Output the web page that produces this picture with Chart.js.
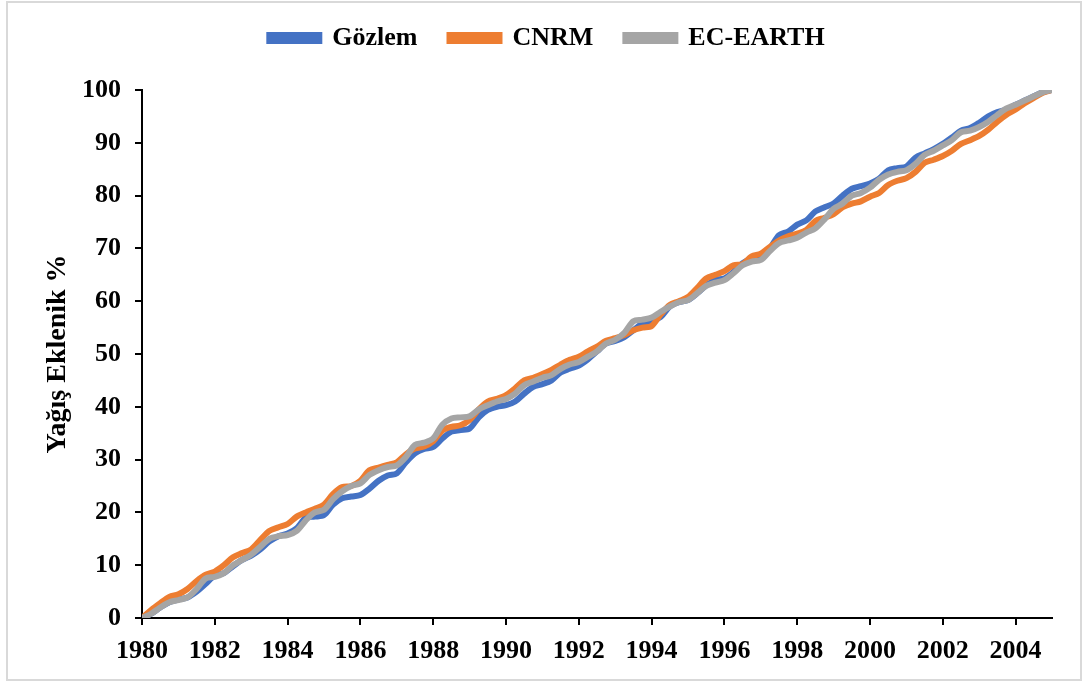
<!DOCTYPE html>
<html>
<head>
<meta charset="utf-8">
<script src="https://cdn.jsdelivr.net/npm/chart.js@4"></script>
<style>
  html, body { margin: 0; padding: 0; background: #fff; }
  #wrap { position: relative; width: 1084px; height: 684px; }
  #frame { position: absolute; left: 6px; top: 1px; width: 1072px; height: 676px; border: 2px solid #d9d9d9; pointer-events: none; }
</style>
</head>
<body>
<div id="wrap">
  <canvas id="chart" width="1084" height="684"></canvas>
  <div id="frame"></div>
</div>
<script>
// quarterly steps, 1980 -> 2005
const startYear = 1980;
const gozlem = [
  0, 0.8, 2.0, 3.0,
  3.5, 3.9, 5.0, 6.5,
  8.0, 8.5, 9.8, 11.0,
  11.8, 13.0, 14.5, 15.5,
  16.0, 17.0, 19.0, 19.2,
  19.5, 21.5, 22.7, 23.0,
  23.3, 24.5, 26.0, 27.0,
  27.4, 29.5, 31.2, 32.0,
  32.4, 34.0, 35.3, 35.6,
  35.9, 38.0, 39.4, 40.0,
  40.3, 41.0, 42.5, 43.8,
  44.3, 45.0, 46.5, 47.2,
  47.8, 49.0, 50.5, 52.0,
  52.5, 53.2, 54.5, 55.8,
  56.2, 57.0, 59.0, 59.8,
  60.2, 61.5, 63.0, 64.0,
  64.3, 65.5, 67.2, 68.0,
  68.2, 70.0, 72.5, 73.2,
  74.5, 75.3, 77.0, 77.8,
  78.5, 80.0, 81.3, 81.8,
  82.3, 83.2, 84.8, 85.2,
  85.5, 87.2, 88.0, 88.8,
  89.8, 91.0, 92.3, 92.8,
  93.8, 95.0, 95.8, 96.3,
  97.2, 98.0, 98.8, 99.6,
  100
];
const cnrm = [
  0, 1.5, 2.8, 4.0,
  4.5, 5.5, 7.0, 8.2,
  8.8, 10.0, 11.5, 12.3,
  13.0, 14.8, 16.5, 17.2,
  17.8, 19.2, 20.0, 20.7,
  21.5, 23.5, 24.8, 25.0,
  26.0, 28.0, 28.5, 29.0,
  29.5, 31.0, 32.1, 32.5,
  33.5, 35.5, 36.2, 36.5,
  37.5, 39.5, 41.0, 41.5,
  42.2, 43.5, 45.0, 45.5,
  46.2, 47.0, 48.0, 48.9,
  49.5, 50.5, 51.4, 52.5,
  53.0, 53.6, 54.5, 55.0,
  55.3, 57.5, 59.3, 60.0,
  60.8, 62.5, 64.3, 65.0,
  65.7, 66.8, 67.0, 68.5,
  69.0, 70.3, 71.5, 72.3,
  72.8, 73.5, 75.2, 75.8,
  76.5, 77.8, 78.5, 78.9,
  79.8, 80.5, 82.0, 82.8,
  83.3, 84.5, 86.2, 86.8,
  87.5, 88.5, 89.8, 90.5,
  91.3, 92.5, 94.0, 95.3,
  96.3, 97.5, 98.5, 99.5,
  100
];
const ecEarth = [
  0, 0.8, 2.0, 3.0,
  3.4, 3.9, 5.5, 7.5,
  7.8, 8.5, 10.0, 11.0,
  12.0, 13.5, 15.0, 15.5,
  15.7, 16.5, 18.5, 20.0,
  20.5, 22.5, 24.0, 25.0,
  25.5, 27.1, 28.0, 28.6,
  28.9, 30.5, 32.8, 33.2,
  34.0, 36.6, 37.8, 38.0,
  38.2, 39.5, 40.3, 41.0,
  41.5, 42.5, 44.1, 44.8,
  45.5, 46.0, 47.2, 48.0,
  48.5, 49.5, 50.5, 52.0,
  52.7, 54.0, 56.2, 56.5,
  56.9, 58.0, 59.0, 59.8,
  60.2, 61.5, 62.9, 63.5,
  64.0, 65.3, 66.8, 67.5,
  67.8, 69.5, 71.0, 71.5,
  72.0, 73.0, 73.8, 75.5,
  77.5, 78.5, 80.0, 80.5,
  81.5, 83.0, 84.0, 84.5,
  84.8, 86.0, 87.7, 88.5,
  89.5, 90.5, 92.0, 92.3,
  93.0, 94.0, 95.3, 96.5,
  97.2, 98.0, 98.8, 99.6,
  100
];

const toPoints = arr => arr.map((v, i) => ({ x: startYear + i / 4, y: v }));
const serif = "'Liberation Serif', 'Times New Roman', serif";

// legend needs a fixed band so the plot starts where the original does,
// and it sits a bit right of the canvas centre
const legendSpace = {
  id: "legendSpace",
  beforeInit(chart) {
    const fit = chart.legend.fit;
    chart.legend.fit = function () {
      fit.bind(chart.legend)();
      this.height = 97;
    };
  },
  afterLayout(chart) {
    chart.legend.left += 42;
  }
};

const mkSet = (label, data, color, order) => ({
  label, data: toPoints(data), borderColor: color, backgroundColor: color,
  borderWidth: 6, pointRadius: 0, tension: 0.3, fill: false, order
});

new Chart(document.getElementById("chart").getContext("2d"), {
  type: "line",
  data: {
    datasets: [
      mkSet("Gözlem", gozlem, "#4472C4", 3),
      mkSet("CNRM", cnrm, "#ED7D31", 2),
      mkSet("EC-EARTH", ecEarth, "#A5A5A5", 1)
    ]
  },
  plugins: [legendSpace],
  options: {
    responsive: false,
    animation: false,
    layout: { padding: { left: 0, right: 32, top: -7, bottom: 0 } },
    plugins: {
      tooltip: { enabled: false },
      legend: {
        position: "top",
        labels: {
          color: "#000",
          font: { family: serif, size: 26, weight: "bold" },
          boxWidth: 50, boxHeight: 6, padding: 32,
          sort: (a, b) => a.datasetIndex - b.datasetIndex
        }
      }
    },
    scales: {
      x: {
        type: "linear",
        min: 1980, max: 2005,
        afterFit: s => { s.height = 66; },
        border: { color: "#000", width: 2 },
        grid: { drawOnChartArea: false, drawTicks: true, tickLength: 7, color: "#000", lineWidth: 2 },
        ticks: {
          stepSize: 2, includeBounds: false, color: "#000", padding: 11, maxRotation: 0,
          font: { family: serif, size: 26, weight: "bold" },
          callback: v => String(v)
        }
      },
      y: {
        min: 0, max: 100,
        afterFit: s => { s.width = 142; },
        border: { color: "#000", width: 2 },
        grid: { drawOnChartArea: false, drawTicks: true, tickLength: 7, color: "#000", lineWidth: 2 },
        ticks: {
          stepSize: 10, color: "#000", padding: 14,
          font: { family: serif, size: 26, weight: "bold" }
        },
        title: {
          display: true, text: "Yağış Eklenik %", color: "#000",
          font: { family: serif, size: 28, weight: "bold" },
          padding: { top: 41, bottom: 0 }
        }
      }
    }
  }
});
</script>
</body>
</html>
